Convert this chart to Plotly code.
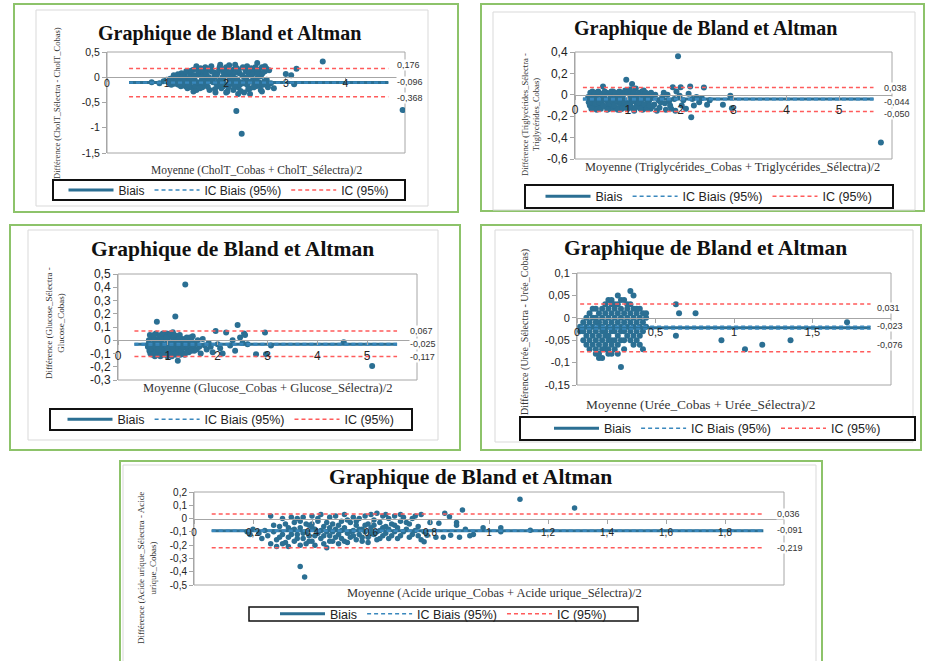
import plotly.graph_objects as go

W, H = 926, 661

# ---------------------------------------------------------------- data
# Chart 1 : Cholestérol total  (moyenne, différence)
chol_pts = [
    (0.75, -0.10), (0.88, -0.12), (0.95, -0.08), (1.00, -0.05), (1.05, -0.12), (1.08, -0.15),
    (1.10, -0.02), (1.12, -0.10), (1.12, 0.04), (1.15, 0.02), (1.18, -0.08), (1.20, -0.15),
    (1.22, 0.00), (1.25, -0.05), (1.25, 0.08), (1.28, -0.12), (1.30, 0.05), (1.32, -0.18),
    (1.35, -0.03), (1.35, -0.22), (1.38, 0.10), (1.40, -0.10), (1.40, 0.05), (1.42, -0.20),
    (1.45, 0.15), (1.45, -0.28), (1.47, -0.05), (1.50, 0.22), (1.50, -0.25), (1.52, 0.05),
    (1.55, -0.12), (1.55, 0.08), (1.57, 0.18), (1.58, -0.08), (1.60, -0.02), (1.60, -0.20),
    (1.62, 0.10), (1.65, -0.15), (1.65, 0.20), (1.67, 0.03), (1.68, -0.03), (1.70, -0.08),
    (1.70, 0.15), (1.72, -0.25), (1.75, 0.22), (1.75, 0.12), (1.78, -0.10), (1.80, 0.00),
    (1.82, -0.30), (1.83, -0.12), (1.85, 0.08), (1.85, -0.18), (1.88, 0.15), (1.90, -0.05),
    (1.90, 0.25), (1.92, -0.22), (1.95, 0.10), (1.95, -0.18), (1.97, -0.12), (2.00, 0.20),
    (2.00, 0.02), (2.00, -0.30), (2.02, -0.28), (2.05, 0.24), (2.05, -0.15), (2.07, -0.05),
    (2.08, 0.05), (2.10, -0.08), (2.12, 0.15), (2.12, -0.25), (2.15, -0.02), (2.15, 0.25),
    (2.18, 0.18), (2.20, -0.20), (2.20, -0.33), (2.22, 0.08), (2.23, -0.15), (2.25, -0.10),
    (2.28, 0.20), (2.30, -0.30), (2.30, 0.00), (2.33, 0.12), (2.35, -0.15), (2.35, 0.22),
    (2.38, 0.05), (2.40, -0.22), (2.40, -0.33), (2.42, 0.18), (2.45, -0.05), (2.47, -0.12),
    (2.48, 0.10), (2.50, -0.18), (2.52, 0.28), (2.55, 0.15), (2.55, -0.10), (2.58, 0.02),
    (2.58, -0.25), (2.60, 0.20), (2.60, -0.28), (2.62, -0.15), (2.65, 0.12), (2.65, 0.22),
    (2.68, -0.05), (2.70, -0.20), (2.72, 0.14), (2.75, -0.12), (2.80, -0.22),
    (1.02, -0.09), (1.06, -0.03), (1.14, -0.13), (1.16, -0.06), (1.19, 0.06), (1.21, -0.11),
    (1.24, -0.18), (1.27, 0.02), (1.29, -0.07), (1.31, -0.14), (1.33, 0.12), (1.37, -0.16),
    (1.39, 0.00), (1.41, 0.13), (1.43, -0.07), (1.46, 0.04), (1.48, -0.17), (1.51, -0.10),
    (1.53, 0.14), (1.56, -0.22), (1.59, 0.01), (1.61, 0.16), (1.63, -0.11), (1.66, 0.07),
    (1.69, -0.19), (1.71, 0.00), (1.73, 0.18), (1.76, -0.06), (1.79, 0.10), (1.81, -0.24),
    (1.84, 0.04), (1.87, -0.08), (1.89, 0.20), (1.91, -0.14), (1.94, 0.00), (1.96, 0.16),
    (1.99, -0.08), (2.01, 0.12), (2.04, -0.20), (2.06, 0.10), (2.09, -0.12), (2.11, 0.03),
    (2.14, -0.17), (2.16, 0.10), (2.19, -0.05), (2.21, 0.14), (2.24, -0.27), (2.27, 0.04),
    (2.29, -0.12), (2.32, 0.16), (2.34, -0.05), (2.37, -0.24), (2.39, 0.10), (2.41, -0.09),
    (2.44, 0.06), (2.46, -0.20), (2.49, 0.20), (2.51, -0.03), (2.53, 0.06), (2.57, -0.17),
    (2.61, 0.08), (2.64, -0.08), (2.67, 0.18), (2.70, -0.12),
    (2.17, -0.67), (2.26, -1.12), (4.96, -0.65), (3.62, 0.31), (3.18, 0.17), (3.00, 0.065),
    (3.09, 0.04), (3.14, -0.14),
]
chol_line_x = [0.37, 4.72]
chol_bias = -0.105
chol_ic_biais = [-0.112, -0.098]
chol_ic = [0.175, -0.385]
chol_labels = ["0,176", "-0,096", "-0,368"]
chol_xtickvals = [0, 1, 2, 3, 4]
chol_xticktext = ["0", "1", "2", "3", "4"]
chol_ytickvals = [0.5, 0, -0.5, -1, -1.5]
chol_yticktext = ["0,5", "0", "-0,5", "-1", "-1,5"]

# Chart 2 : Triglycérides
trig_pts = [
    (0.25, -0.02), (0.28, -0.10), (0.30, -0.06), (0.32, 0.00), (0.33, 0.03), (0.35, -0.09),
    (0.36, -0.12), (0.38, -0.03), (0.40, 0.02), (0.42, -0.12), (0.43, 0.00), (0.45, -0.05),
    (0.47, -0.10), (0.48, 0.01), (0.50, -0.08), (0.52, -0.04), (0.53, 0.078), (0.55, -0.02),
    (0.57, 0.02), (0.58, -0.11), (0.60, 0.02), (0.62, -0.06), (0.63, -0.10), (0.65, -0.13),
    (0.67, -0.03), (0.68, 0.00), (0.70, -0.09), (0.72, 0.03), (0.73, -0.13), (0.75, -0.04),
    (0.77, 0.00), (0.78, -0.12), (0.80, 0.01), (0.82, -0.07), (0.83, -0.02), (0.85, -0.14),
    (0.87, -0.10), (0.88, 0.02), (0.90, -0.03), (0.92, -0.10), (0.93, 0.01), (0.95, 0.04),
    (0.97, 0.14), (0.98, -0.06), (1.00, -0.13), (1.02, 0.01), (1.03, -0.04), (1.05, -0.08),
    (1.07, -0.12), (1.08, 0.10), (1.10, -0.03), (1.12, -0.15), (1.13, 0.00), (1.15, 0.06),
    (1.17, -0.09), (1.18, -0.05), (1.20, -0.11), (1.22, 0.02), (1.23, -0.05), (1.25, -0.08),
    (1.27, 0.03), (1.28, -0.14), (1.30, 0.04), (1.32, -0.12), (1.33, -0.02), (1.35, -0.10),
    (1.37, -0.07), (1.38, 0.00), (1.40, -0.06), (1.42, 0.01), (1.43, -0.13), (1.45, -0.03),
    (1.47, -0.11), (1.50, -0.09), (1.52, 0.00), (1.55, -0.15), (1.58, -0.05), (1.60, -0.12),
    (1.62, -0.07), (1.65, -0.02), (1.68, 0.02), (1.70, -0.08), (1.72, -0.14), (1.75, 0.00),
    (1.78, -0.06), (1.80, -0.10), (1.82, -0.13), (1.85, 0.07), (1.88, -0.04), (1.90, -0.15),
    (0.26, -0.07), (0.29, 0.02), (0.31, -0.13), (0.34, -0.04), (0.37, 0.01), (0.39, -0.08),
    (0.41, -0.14), (0.44, 0.03), (0.46, -0.07), (0.49, -0.13), (0.51, 0.00), (0.54, -0.10),
    (0.56, 0.03), (0.59, -0.05), (0.61, -0.14), (0.64, 0.01), (0.66, -0.08), (0.69, 0.03),
    (0.71, -0.06), (0.74, -0.10), (0.76, 0.02), (0.79, -0.05), (0.81, -0.14), (0.84, 0.03),
    (0.86, -0.06), (0.89, -0.13), (0.91, 0.00), (0.94, -0.07), (0.96, -0.12), (0.99, 0.02),
    (1.01, -0.10), (1.04, 0.05), (1.06, -0.02), (1.09, -0.06), (1.11, 0.02), (1.14, -0.12),
    (1.16, -0.02), (1.19, 0.01), (1.21, -0.07), (1.24, -0.13), (1.26, 0.00), (1.29, -0.04),
    (1.31, -0.09), (1.34, 0.02), (1.36, -0.13), (1.39, -0.04), (1.41, -0.10), (1.44, 0.02),
    (1.92, 0.03), (1.95, 0.36), (1.98, -0.01), (2.00, 0.07), (2.02, -0.10), (2.05, -0.05),
    (2.10, -0.13), (2.15, 0.01), (2.18, 0.078), (2.20, -0.21), (2.22, -0.04), (2.25, -0.10),
    (2.30, -0.02), (2.35, -0.07), (2.40, -0.03), (2.44, 0.068), (2.50, -0.093), (2.55, -0.05),
    (2.80, -0.093), (2.94, -0.01), (2.97, -0.125), (5.79, -0.445),
]
trig_line_x = [0.15, 5.65]
trig_bias = -0.04
trig_ic_biais = [-0.046, -0.034]
trig_ic = [0.068, -0.156]
trig_labels = ["0,038", "-0,044", "-0,050"]
trig_xtickvals = [0, 1, 2, 3, 4, 5]
trig_xticktext = ["0", "1", "2", "3", "4", "5"]
trig_ytickvals = [0.4, 0.2, 0, -0.2, -0.4, -0.6]
trig_yticktext = ["0,4", "0,2", "0", "-0,2", "-0,4", "-0,6"]

# Chart 3 : Glucose
glu_pts = [
    (0.60, -0.05), (0.62, 0.00), (0.63, -0.08), (0.65, -0.10), (0.67, 0.02), (0.68, 0.03),
    (0.70, -0.07), (0.71, -0.05), (0.72, -0.02), (0.73, 0.01), (0.74, -0.12), (0.76, 0.05),
    (0.77, -0.08), (0.78, 0.14), (0.79, -0.11), (0.80, -0.04), (0.82, 0.01), (0.83, 0.03),
    (0.84, -0.09), (0.86, 0.04), (0.87, -0.02), (0.88, -0.06), (0.90, -0.11), (0.91, -0.08),
    (0.92, 0.02), (0.93, 0.04), (0.94, -0.03), (0.96, -0.08), (0.97, -0.04), (0.98, 0.05),
    (0.99, -0.12), (1.00, -0.01), (1.01, 0.02), (1.02, -0.10), (1.04, 0.03), (1.05, -0.08),
    (1.06, -0.05), (1.08, -0.12), (1.09, -0.03), (1.10, 0.06), (1.11, 0.01), (1.12, 0.00),
    (1.13, -0.10), (1.14, -0.07), (1.15, 0.18), (1.17, 0.02), (1.18, 0.03), (1.19, -0.04),
    (1.20, -0.155), (1.21, -0.06), (1.22, -0.09), (1.24, 0.04), (1.25, -0.11), (1.26, -0.02),
    (1.28, -0.06), (1.29, -0.03), (1.30, 0.01), (1.32, -0.10), (1.33, 0.00), (1.35, 0.42),
    (1.36, -0.03), (1.37, -0.06), (1.38, 0.02), (1.40, -0.07), (1.42, -0.09), (1.43, -0.01),
    (1.46, -0.05), (1.48, -0.01), (1.50, 0.03), (1.53, -0.08), (1.56, -0.02), (1.60, 0.00),
    (0.61, -0.03), (0.64, 0.04), (0.66, -0.06), (0.69, -0.11), (0.72, 0.04), (0.75, -0.05),
    (0.78, -0.01), (0.81, -0.07), (0.85, -0.12), (0.89, 0.01), (0.90, 0.05), (0.95, -0.10),
    (0.97, 0.02), (1.00, -0.06), (1.03, -0.02), (1.05, 0.05), (1.07, -0.10), (1.10, -0.06),
    (1.13, 0.04), (1.16, -0.11), (1.18, -0.01), (1.23, 0.01), (1.27, -0.08), (1.31, -0.05),
    (1.34, -0.11), (1.39, -0.04), (1.44, 0.02), (1.47, -0.08), (1.52, -0.04), (1.58, -0.07),
    (1.63, -0.05), (1.66, -0.10), (1.70, 0.01), (1.74, -0.04), (1.78, -0.07), (1.82, -0.02),
    (1.86, -0.05), (1.90, -0.09), (1.96, 0.07), (2.00, -0.03), (2.05, -0.06), (2.10, -0.10),
    (2.17, 0.058), (2.25, -0.04), (2.30, 0.00), (2.35, -0.08), (2.40, 0.115), (2.45, 0.02),
    (2.50, -0.02), (2.53, 0.05), (2.55, 0.04), (2.60, -0.03), (2.77, -0.105), (2.95, 0.058),
    (2.97, -0.105), (3.07, -0.04), (4.53, -0.015), (5.10, -0.195),
]
glu_line_x = [0.33, 5.6]
glu_bias = -0.03
glu_ic_biais = [-0.035, -0.025]
glu_ic = [0.07, -0.123]
glu_labels = ["0,067", "-0,025", "-0,117"]
glu_xtickvals = [0, 1, 2, 3, 4, 5]
glu_xticktext = ["0", "1", "2", "3", "4", "5"]
glu_ytickvals = [0.5, 0.4, 0.3, 0.2, 0.1, 0, -0.1, -0.2, -0.3]
glu_yticktext = ["0,5", "0,4", "0,3", "0,2", "0,1", "0", "-0,1", "-0,2", "-0,3"]

# Chart 4 : Urée
ure_pts = [
    (0.02, -0.03), (0.02, -0.02),
    (0.04, -0.05), (0.04, -0.01), (0.04, -0.03),
    (0.06, -0.02), (0.06, -0.04), (0.06, 0.00), (0.06, -0.06),
    (0.08, -0.01), (0.08, -0.03), (0.08, -0.05), (0.08, 0.01), (0.08, -0.07),
    (0.10, 0.02), (0.10, 0.00), (0.10, -0.02), (0.10, -0.04), (0.10, -0.06),
    (0.12, 0.02), (0.12, 0.00), (0.12, -0.01), (0.12, -0.03), (0.12, -0.05), (0.12, -0.07), (0.12, -0.08),
    (0.14, 0.01), (0.14, -0.01), (0.14, -0.02), (0.14, -0.04), (0.14, -0.06), (0.14, -0.08), (0.14, -0.09),
    (0.16, 0.02), (0.16, 0.00), (0.16, -0.02), (0.16, -0.03), (0.16, -0.05), (0.16, -0.07), (0.16, -0.09),
    (0.18, 0.03), (0.18, 0.01), (0.18, -0.01), (0.18, -0.03), (0.18, -0.04), (0.18, -0.06), (0.18, -0.07),
    (0.20, 0.04), (0.20, 0.02), (0.20, 0.00), (0.20, -0.02), (0.20, -0.04), (0.20, -0.05), (0.20, -0.07), (0.20, -0.08),
    (0.22, 0.04), (0.22, 0.03), (0.22, 0.01), (0.22, -0.01), (0.22, -0.03), (0.22, -0.05), (0.22, -0.06), (0.22, -0.08),
    (0.24, 0.03), (0.24, 0.02), (0.24, 0.00), (0.24, -0.02), (0.24, -0.03), (0.24, -0.05), (0.24, -0.07),
    (0.26, 0.05), (0.26, 0.03), (0.26, 0.01), (0.26, -0.01), (0.26, -0.04), (0.26, -0.06), (0.26, -0.08),
    (0.28, 0.04), (0.28, 0.02), (0.28, 0.00), (0.28, -0.02), (0.28, -0.03), (0.28, -0.05), (0.28, -0.11),
    (0.30, 0.04), (0.30, 0.01), (0.30, -0.01), (0.30, -0.03), (0.30, -0.05), (0.30, -0.07),
    (0.32, 0.03), (0.32, 0.02), (0.32, 0.00), (0.32, -0.02), (0.32, -0.04),
    (0.34, 0.06), (0.34, 0.03), (0.34, 0.01), (0.34, -0.01), (0.34, -0.03), (0.34, -0.05),
    (0.36, 0.05), (0.36, 0.02), (0.36, 0.00), (0.36, -0.02), (0.36, -0.04), (0.36, -0.06),
    (0.38, 0.02), (0.38, 0.01), (0.38, -0.01), (0.38, -0.03), (0.38, -0.05),
    (0.40, 0.02), (0.40, 0.00), (0.40, -0.02), (0.40, -0.04), (0.40, -0.06),
    (0.42, 0.01), (0.42, -0.01), (0.42, -0.03), (0.42, -0.07),
    (0.44, 0.01), (0.44, 0.00), (0.44, -0.02),
    (0.63, 0.03), (0.65, 0.01), (0.755, 0.01), (0.63, -0.04), (0.92, -0.05), (1.07, -0.07),
    (1.18, -0.06), (1.36, -0.05), (1.72, -0.01),
]
ure_line_x = [0.02, 1.87]
ure_bias = -0.022
ure_ic_biais = [-0.025, -0.019]
ure_ic = [0.031, -0.076]
ure_labels = ["0,031", "-0,023", "-0,076"]
ure_xtickvals = [0, 0.5, 1, 1.5]
ure_xticktext = ["0", "0,5", "1", "1,5"]
ure_ytickvals = [0.1, 0.05, 0, -0.05, -0.1, -0.15]
ure_yticktext = ["0,1", "0,05", "0", "-0,05", "-0,1", "-0,15"]

# Chart 5 : Acide urique
au_pts = [
    (0.18, -0.10), (0.19, -0.12), (0.20, -0.08), (0.22, -0.11), (0.23, -0.15), (0.24, -0.09),
    (0.25, -0.13), (0.26, 0.02), (0.26, -0.19), (0.27, -0.10), (0.28, -0.16), (0.28, -0.21),
    (0.29, -0.06), (0.30, -0.12), (0.30, 0.00), (0.31, -0.18), (0.31, -0.04), (0.32, -0.14),
    (0.32, -0.21), (0.33, 0.01), (0.33, -0.09), (0.34, -0.17), (0.34, -0.03), (0.35, -0.12),
    (0.35, 0.00), (0.36, -0.20), (0.36, -0.07), (0.36, -0.36), (0.37, -0.15), (0.37, 0.01),
    (0.375, -0.44), (0.38, -0.10), (0.38, -0.19), (0.39, -0.05), (0.39, -0.13), (0.40, 0.02),
    (0.40, -0.17), (0.41, -0.08), (0.41, -0.20), (0.42, -0.11), (0.42, -0.02), (0.43, -0.15),
    (0.43, 0.03), (0.44, -0.06), (0.44, -0.19), (0.45, -0.10), (0.45, -0.22), (0.46, 0.01),
    (0.46, -0.13), (0.47, -0.04), (0.47, -0.17), (0.48, -0.08), (0.48, 0.02), (0.49, -0.12),
    (0.49, -0.19), (0.50, -0.02), (0.50, -0.15), (0.51, -0.07), (0.51, 0.03), (0.52, -0.11),
    (0.52, -0.18), (0.53, -0.03), (0.53, -0.14), (0.54, 0.01), (0.54, -0.09), (0.55, -0.16),
    (0.55, -0.05), (0.56, 0.00), (0.56, -0.12), (0.57, -0.08), (0.57, -0.17), (0.58, 0.02),
    (0.58, -0.10), (0.59, -0.04), (0.59, -0.14), (0.60, 0.03), (0.60, -0.07), (0.61, -0.12),
    (0.61, -0.01), (0.62, -0.16), (0.62, 0.04), (0.63, -0.09), (0.63, -0.03), (0.64, -0.13),
    (0.64, 0.02), (0.65, -0.06), (0.65, -0.11), (0.66, 0.00), (0.66, -0.15), (0.67, -0.04),
    (0.68, -0.10), (0.68, 0.02), (0.69, -0.07), (0.70, -0.13), (0.70, -0.02), (0.71, 0.01),
    (0.72, -0.08), (0.73, -0.04), (0.74, -0.12), (0.75, 0.02), (0.76, -0.06), (0.77, 0.03),
    (0.27, -0.05), (0.29, -0.14), (0.30, -0.19), (0.32, -0.07), (0.33, -0.12), (0.34, -0.08),
    (0.35, -0.15), (0.36, -0.02), (0.37, -0.11), (0.38, -0.04), (0.39, -0.17), (0.40, -0.07),
    (0.41, -0.13), (0.42, 0.00), (0.43, -0.09), (0.44, -0.13), (0.45, -0.03), (0.46, -0.17),
    (0.47, -0.10), (0.48, -0.14), (0.49, -0.05), (0.50, -0.09), (0.51, -0.17), (0.52, -0.01),
    (0.53, -0.10), (0.54, -0.13), (0.55, -0.02), (0.56, -0.08), (0.57, -0.14), (0.58, -0.05),
    (0.59, -0.18), (0.60, -0.11), (0.61, -0.05), (0.62, -0.10), (0.63, -0.15), (0.64, -0.07),
    (0.65, 0.03), (0.66, -0.08), (0.67, -0.13), (0.68, -0.05), (0.69, -0.15), (0.70, 0.03),
    (0.71, -0.10), (0.72, -0.03), (0.73, -0.14), (0.74, 0.00), (0.75, -0.09), (0.76, -0.13),
    (0.40, -0.04), (0.46, -0.07),
    (0.77, -0.16), (0.78, -0.175), (0.78, -0.10), (0.79, -0.125), (0.80, -0.03), (0.82, -0.14),
    (0.83, -0.036), (0.845, -0.14), (0.85, 0.04), (0.866, 0.014), (0.87, -0.125), (0.89, -0.03),
    (0.89, -0.05), (0.90, -0.14), (0.91, 0.064), (0.92, -0.08), (0.935, -0.13), (0.947, -0.12),
    (0.98, -0.07), (1.04, -0.07), (1.04, -0.10), (1.105, 0.145), (1.14, -0.087), (1.29, 0.08),
]
au_line_x = [0.06, 1.93]
au_bias = -0.091
au_ic_biais = [-0.095, -0.087]
au_ic = [0.034, -0.22]
au_labels = ["0,036", "-0,091", "-0,219"]
au_xtickvals = [0, 0.2, 0.4, 0.6, 0.8, 1, 1.2, 1.4, 1.6, 1.8]
au_xticktext = ["0", "0,2", "0,4", "0,6", "0,8", "1", "1,2", "1,4", "1,6", "1,8"]
au_ytickvals = [0.2, 0.1, 0, -0.1, -0.2, -0.3, -0.4, -0.5]
au_yticktext = ["0,2", "0,1", "0", "-0,1", "-0,2", "-0,3", "-0,4", "-0,5"]

chart_title = "Graphique de Bland et Altman"
legend_names = ["Biais", "IC Biais (95%)", "IC (95%)"]
x_titles = [
    "Moyenne (CholT_Cobas + CholT_Sélectra)/2",
    "Moyenne (Triglycérides_Cobas + Triglycérides_Sélectra)/2",
    "Moyenne (Glucose_Cobas + Glucose_Sélectra)/2",
    "Moyenne (Urée_Cobas + Urée_Sélectra)/2",
    "Moyenne (Acide urique_Cobas + Acide urique_Sélectra)/2",
]
y_titles = [
    "Différence (CholT_Sélectra - CholT_Cobas)",
    "Différence (Triglycérides_Sélectra -<br>Triglycérides_Cobas)",
    "Différence (Glucose_Sélectra -<br>Glucose_Cobas)",
    "Différence (Urée_Sélectra - Urée_Cobas)",
    "Différence (Acide urique_Sélectra - Acide<br>urique_Cobas)",
]

# ---------------------------------------------------------------- style
BLUE = "#2b6f93"
BLUE_DASH = "#3a88bd"
RED = "#ff5b5b"
AXIS = "#a6a6a6"
GREEN = "#8dc36a"
INNER = "#d9d9d9"
SERIF = "Liberation Serif, Times New Roman, serif"
SANS = "Liberation Sans, Arial, sans-serif"
NARROW = "Liberation Sans Narrow, Liberation Sans, Arial, sans-serif"


def fx(px):
    return px / W


def fy(py):
    return 1 - py / H


datasets = [
    dict(pts=chol_pts, lx=chol_line_x, bias=chol_bias, icb=chol_ic_biais, ic=chol_ic, labels=chol_labels,
         xtv=chol_xtickvals, xtt=chol_xticktext, ytv=chol_ytickvals, ytt=chol_yticktext),
    dict(pts=trig_pts, lx=trig_line_x, bias=trig_bias, icb=trig_ic_biais, ic=trig_ic, labels=trig_labels,
         xtv=trig_xtickvals, xtt=trig_xticktext, ytv=trig_ytickvals, ytt=trig_yticktext),
    dict(pts=glu_pts, lx=glu_line_x, bias=glu_bias, icb=glu_ic_biais, ic=glu_ic, labels=glu_labels,
         xtv=glu_xtickvals, xtt=glu_xticktext, ytv=glu_ytickvals, ytt=glu_yticktext),
    dict(pts=ure_pts, lx=ure_line_x, bias=ure_bias, icb=ure_ic_biais, ic=ure_ic, labels=ure_labels,
         xtv=ure_xtickvals, xtt=ure_xticktext, ytv=ure_ytickvals, ytt=ure_yticktext),
    dict(pts=au_pts, lx=au_line_x, bias=au_bias, icb=au_ic_biais, ic=au_ic, labels=au_labels,
         xtv=au_xtickvals, xtt=au_xticktext, ytv=au_ytickvals, ytt=au_yticktext),
]

# layout of each panel, in pixels of the 926x661 page
panels = [
    dict(plot=(107, 52, 405, 153), xr=[0, 5], yr=[-1.5, 0.5], title=(229, 33, 20), xt=(256, 170, 11.5),
         yt=(57, 103, 8.5), lab_dy=[3, 1, -1], lab_dx=8, lbox=(53, 180, 405, 200), lfont=12, tick=10.5,
         xstand=-8, ms=6, green=(14, 4, 458, 212), inner=(36, 10, 428, 206)),
    dict(plot=(575, 52, 892, 159), xr=[0, 6], yr=[-0.6, 0.4], title=(705, 29, 20), xt=(732, 167, 12.4),
         yt=(530, 115, 8.5), lab_dy=[0, -3, -3], lab_dx=9, lbox=(525, 185, 893, 208), lfont=12.5, tick=12,
         xstand=0, ms=6, green=(481, 4, 924, 211), inner=(493, 12, 915, 210)),
    dict(plot=(118, 274, 417, 380), xr=[0, 6], yr=[-0.3, 0.5], title=(233, 249, 21.5), xt=(267, 388, 12.6),
         yt=(55, 323, 9), lab_dy=[0, 0, 0], lab_dx=12, lbox=(50, 409, 412, 430), lfont=12.5, tick=12,
         xstand=0, ms=6, green=(10, 225, 460, 450), inner=(28, 230, 438, 440)),
    dict(plot=(577, 273, 891, 385), xr=[0, 2], yr=[-0.15, 0.1], title=(705, 248, 21.5), xt=(701, 404, 13.4),
         yt=(525, 332, 10), lab_dy=[-4, 2, 7], lab_dx=5, lbox=(520, 417, 915, 440), lfont=12.5, tick=11,
         xstand=0, ms=6, green=(481, 225, 921, 450), inner=(495, 230, 913, 442)),
    dict(plot=(194, 492, 784, 585), xr=[0, 2], yr=[-0.5, 0.2], title=(470, 477, 21.5), xt=(494, 593, 12.5),
         yt=(147, 568, 9), lab_dy=[0, 1, 0], lab_dx=13, lbox=(249, 607, 638, 621), lfont=12.5, tick=10,
         xstand=0, ms=5.5, green=(120, 461, 822, 662), inner=(123, 465, 816, 662)),
]

fig = go.Figure()
shapes = []
annotations = []
layout_extra = {}

for i, (d, p) in enumerate(zip(datasets, panels), start=1):
    xa = "x" if i == 1 else f"x{i}"
    ya = "y" if i == 1 else f"y{i}"
    lg = "legend" if i == 1 else f"legend{i}"
    x0p, y0p, x1p, y1p = p["plot"]
    xdom = [fx(x0p), fx(x1p)]
    ydom = [fy(y1p), fy(y0p)]
    # position of the y=0 line in paper coordinates, from domain and range
    yr = p["yr"]
    zero_pos = ydom[0] + (0 - yr[0]) / (yr[1] - yr[0]) * (ydom[1] - ydom[0])

    xs = [pt[0] for pt in d["pts"]]
    ys = [pt[1] for pt in d["pts"]]
    fig.add_trace(go.Scatter(x=xs, y=ys, mode="markers", marker=dict(color=BLUE, size=p["ms"]),
                             xaxis=xa, yaxis=ya, showlegend=False, hoverinfo="skip"))
    lx = d["lx"]
    fig.add_trace(go.Scatter(x=lx, y=[d["bias"], d["bias"]], mode="lines", name=legend_names[0],
                             line=dict(color=BLUE, width=3), xaxis=xa, yaxis=ya, legend=lg))
    fig.add_trace(go.Scatter(x=[lx[0], lx[1], None, lx[0], lx[1]],
                             y=[d["icb"][1], d["icb"][1], None, d["icb"][0], d["icb"][0]],
                             mode="lines", name=legend_names[1],
                             line=dict(color=BLUE_DASH, width=1.5, dash="4px,3px"),
                             xaxis=xa, yaxis=ya, legend=lg))
    fig.add_trace(go.Scatter(x=[lx[0], lx[1], None, lx[0], lx[1]],
                             y=[d["ic"][0], d["ic"][0], None, d["ic"][1], d["ic"][1]],
                             mode="lines", name=legend_names[2],
                             line=dict(color=RED, width=1.5, dash="4px,3px"),
                             xaxis=xa, yaxis=ya, legend=lg))

    layout_extra["xaxis" if i == 1 else f"xaxis{i}"] = dict(
        domain=xdom, range=p["xr"], anchor="free", position=zero_pos,
        showline=True, linecolor=AXIS, linewidth=1, showgrid=False, zeroline=False,
        ticks="outside", ticklen=4, tickcolor=AXIS, tickvals=d["xtv"], ticktext=d["xtt"],
        tickfont=dict(family=SANS, size=p["tick"], color="#222"), ticklabelstandoff=p["xstand"],
        fixedrange=True,
    )
    layout_extra["yaxis" if i == 1 else f"yaxis{i}"] = dict(
        domain=ydom, range=yr, anchor=xa,
        showline=True, linecolor=AXIS, linewidth=1, showgrid=False, zeroline=False,
        ticks="outside", ticklen=4, tickcolor=AXIS, tickvals=d["ytv"], ticktext=d["ytt"],
        tickfont=dict(family=SANS, size=p["tick"], color="#222"), fixedrange=True,
    )

    # frames
    gx0, gy0, gx1, gy1 = p["green"]
    shapes.append(dict(type="rect", xref="paper", yref="paper", x0=fx(gx0), x1=fx(gx1), y0=fy(gy1), y1=fy(gy0),
                       line=dict(color=GREEN, width=2), layer="below"))
    ix0, iy0, ix1, iy1 = p["inner"]
    shapes.append(dict(type="rect", xref="paper", yref="paper", x0=fx(ix0), x1=fx(ix1), y0=fy(iy1), y1=fy(iy0),
                       line=dict(color=INNER, width=1), layer="below"))
    shapes.append(dict(type="rect", xref=f"{xa} domain", yref=f"{ya} domain", x0=0, x1=1, y0=0, y1=1,
                       line=dict(color=AXIS, width=1), layer="below"))
    # legend frame
    bx0, by0, bx1, by1 = p["lbox"]
    shapes.append(dict(type="rect", xref="paper", yref="paper", x0=fx(bx0), x1=fx(bx1), y0=fy(by1), y1=fy(by0),
                       line=dict(color="#111", width=2 if i < 5 else 1.5), fillcolor="white", layer="below"))
    layout_extra[lg] = dict(
        orientation="h", x=fx((bx0 + bx1) / 2), y=fy((by0 + by1) / 2), xanchor="center", yanchor="middle",
        bgcolor="rgba(0,0,0,0)", borderwidth=0, itemwidth=45,
        font=dict(family=SANS, size=p["lfont"], color="#222"),
        itemclick=False, itemdoubleclick=False,
    )

    # title and axis titles
    tx, ty, ts = p["title"]
    annotations.append(dict(text=f"<b>{chart_title}</b>", x=fx(tx), y=fy(ty), xref="paper", yref="paper",
                            showarrow=False, xanchor="center", yanchor="middle",
                            font=dict(family=SERIF, size=ts, color="#111")))
    xtx, xty, xts = p["xt"]
    annotations.append(dict(text=x_titles[i - 1], x=fx(xtx), y=fy(xty), xref="paper", yref="paper",
                            showarrow=False, xanchor="center", yanchor="middle",
                            font=dict(family=SERIF, size=xts, color="#333")))
    ytx, yty, yts = p["yt"]
    annotations.append(dict(text=y_titles[i - 1], x=fx(ytx), y=fy(yty), xref="paper", yref="paper",
                            showarrow=False, xanchor="center", yanchor="middle", textangle=-90,
                            font=dict(family=SERIF, size=yts, color="#333")))
    # value labels at the end of the lines
    for val, txt, dy in zip([d["ic"][0], d["bias"], d["ic"][1]], d["labels"], p["lab_dy"]):
        annotations.append(dict(text=txt, x=lx[1], y=val, xref=xa, yref=ya, showarrow=False,
                                xanchor="left", yanchor="middle", xshift=p["lab_dx"], yshift=dy,
                                bgcolor="white", borderpad=0,
                                font=dict(family=NARROW, size=9, color="#333")))

fig.update_layout(
    width=W, height=H, autosize=False,
    margin=dict(l=0, r=0, t=0, b=0, pad=0, autoexpand=False),
    paper_bgcolor="white", plot_bgcolor="rgba(0,0,0,0)",
    shapes=shapes, annotations=annotations,
    **layout_extra,
)

fig.write_html("out.html", config={"displayModeBar": False},
               post_script="document.body.style.margin='0';")
